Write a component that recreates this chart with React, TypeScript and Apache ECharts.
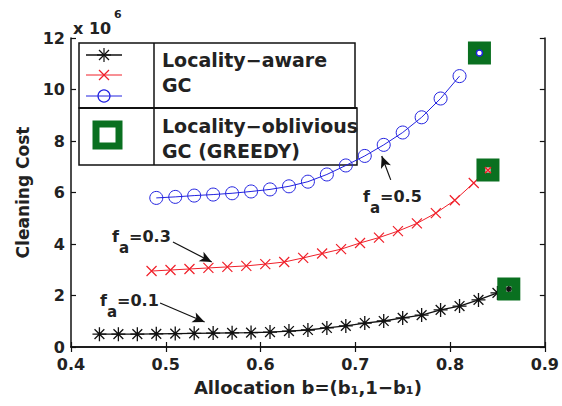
import React, { useEffect, useRef } from 'react';
import * as echarts from 'echarts';

// f_a = 0.1 (Locality-aware GC)
const xF01 = [0.43, 0.45, 0.47, 0.49, 0.51, 0.53, 0.55, 0.57, 0.59, 0.61, 0.63, 0.65, 0.67, 0.69, 0.71, 0.73, 0.75, 0.77, 0.79, 0.81, 0.83, 0.85];
const yF01 = [0.5, 0.5, 0.5, 0.51, 0.52, 0.53, 0.54, 0.55, 0.56, 0.58, 0.62, 0.66, 0.74, 0.82, 0.93, 1.01, 1.13, 1.24, 1.44, 1.59, 1.83, 2.1];
// f_a = 0.3
const xF03 = [0.485, 0.505, 0.525, 0.545, 0.565, 0.585, 0.605, 0.625, 0.645, 0.665, 0.685, 0.705, 0.725, 0.745, 0.765, 0.785, 0.805, 0.825];
const yF03 = [2.95, 2.99, 3.03, 3.07, 3.11, 3.15, 3.22, 3.3, 3.46, 3.63, 3.8, 4.04, 4.25, 4.5, 4.8, 5.2, 5.7, 6.37];
// f_a = 0.5
const xF05 = [0.49, 0.51, 0.53, 0.55, 0.57, 0.59, 0.61, 0.63, 0.65, 0.67, 0.69, 0.71, 0.73, 0.75, 0.77, 0.79, 0.81];
const yF05 = [5.79, 5.83, 5.88, 5.92, 5.97, 6.04, 6.12, 6.24, 6.42, 6.7, 7.05, 7.42, 7.85, 8.33, 8.92, 9.65, 10.52];
// Locality-oblivious GC (GREEDY), for f_a = 0.1, 0.3, 0.5
const greedyX = [0.862, 0.84, 0.831];
const greedyY = [2.25, 6.87, 11.42];

const seriesNames = ['f_a=0.1', 'f_a=0.3', 'f_a=0.5'];
const legendLabels = ['Locality\u2212aware', 'GC', 'Locality\u2212oblivious', 'GC (GREEDY)'];

const FONT = 'DejaVu Sans';
const TXT = '#222';
const BLACK = '#111';
const RED = '#f0202a';
const BLUE = '#2222e0';
const GREEN = '#0a7020';

const STAR = 'path://M5,0L5,10M0,5L10,5M1.5,1.5L8.5,8.5M8.5,1.5L1.5,8.5';
const CROSS = 'path://M0,0L10,10M10,0L0,10';

const zip = (xs: number[], ys: number[]) => xs.map((x, i) => [x, ys[i]]);

const arrow = (from: number[], to: number[]) => ({
  silent: true,
  symbol: ['none', 'arrow'],
  symbolSize: [8, 12],
  lineStyle: { color: BLACK, width: 1.2, type: 'solid' },
  itemStyle: { color: BLACK },
  label: { show: false },
  emphasis: { disabled: true },
  animation: false,
  data: [[{ coord: from }, { coord: to }]],
});

const annot = (x: number, y: number, val: string) => ({
  type: 'text',
  x,
  y,
  z: 50,
  style: {
    text: `{n|f}{s|a}{n|=${val}}`,
    fill: TXT,
    align: 'left',
    verticalAlign: 'top',
    rich: {
      n: { fontFamily: FONT, fontWeight: 'bold', fontSize: 16, fill: TXT, verticalAlign: 'top' },
      s: { fontFamily: FONT, fontWeight: 'bold', fontSize: 15, fill: TXT, verticalAlign: 'bottom', padding: [12, 0, 0, 0] },
    },
  },
});

const lineEl = (x1: number, y1: number, x2: number, y2: number, color: string, w = 1.2) => ({
  type: 'line',
  shape: { x1, y1, x2, y2 },
  style: { stroke: color, lineWidth: w },
});

export default function App() {
  const ref = useRef<HTMLDivElement>(null);
  useEffect(() => {
    const chart = echarts.init(ref.current!, null, { renderer: 'svg' });
    const axisLine = { show: true, lineStyle: { color: BLACK, width: 1.5 } };
    const axisTick = { show: true, inside: true, length: 5, lineStyle: { color: BLACK, width: 1.2 } };
    const labelStyle = { fontFamily: FONT, fontWeight: 'bold' as const, fontSize: 16, color: TXT };

    const lx = 104; // legend icon centre x
    const legendGraphic: any[] = [
      { type: 'rect', shape: { x: 79, y: 43, width: 276, height: 65 }, style: { fill: '#fff', stroke: BLACK, lineWidth: 1.5 } },
      { type: 'rect', shape: { x: 79, y: 108, width: 278, height: 57 }, style: { fill: '#fff', stroke: BLACK, lineWidth: 1.5 } },
      lineEl(79, 108, 357, 108, BLACK, 2.2),
      lineEl(154, 43, 154, 165, BLACK, 1.5),
      // black star row
      lineEl(86, 55, 122, 55, BLACK, 1.3),
      lineEl(lx, 48, lx, 62, BLACK), lineEl(lx - 7, 55, lx + 7, 55, BLACK),
      lineEl(lx - 5, 50, lx + 5, 60, BLACK), lineEl(lx + 5, 50, lx - 5, 60, BLACK),
      // red cross row
      lineEl(86, 75, 122, 75, RED, 1),
      lineEl(lx - 5, 70, lx + 5, 80, RED), lineEl(lx + 5, 70, lx - 5, 80, RED),
      // blue circle row
      lineEl(86, 96, 122, 96, BLUE, 1),
      { type: 'circle', shape: { cx: lx, cy: 96, r: 6 }, style: { fill: 'none', stroke: BLUE, lineWidth: 1.2 } },
      // green square
      { type: 'rect', shape: { x: 96, y: 124, width: 23, height: 22 }, style: { fill: '#fff', stroke: GREEN, lineWidth: 7 } },
      ...[60, 85, 126, 151].map((y, i) => ({
        type: 'text', x: 162, y,
        style: { text: legendLabels[i], fontFamily: FONT, fontWeight: 'bold', fontSize: 19, fill: TXT, align: 'left', verticalAlign: 'middle' },
      })),
    ];

    const option: any = {
      animation: false,
      backgroundColor: '#fff',
      grid: { left: 71, top: 38, width: 476, height: 309, containLabel: false },
      xAxis: [
        {
          type: 'value', min: 0.4, max: 0.9, interval: 0.1, position: 'bottom',
          axisLine, axisTick, splitLine: { show: false },
          axisLabel: { ...labelStyle, margin: 9, formatter: (v: number) => v.toFixed(1) },
          name: 'Allocation b=(b\u2081,1\u2212b\u2081)', nameLocation: 'middle', nameGap: 31,
          nameTextStyle: { fontFamily: FONT, fontWeight: 'bold', fontSize: 18, color: TXT },
        },
        {
          type: 'value', min: 0.4, max: 0.9, interval: 0.1, position: 'top',
          axisLine, axisTick, splitLine: { show: false }, axisLabel: { show: false },
        },
      ],
      yAxis: [
        {
          type: 'value', min: 0, max: 12, interval: 2, position: 'left',
          axisLine, axisTick, splitLine: { show: false },
          axisLabel: { ...labelStyle, margin: 6 },
          name: 'Cleaning Cost', nameLocation: 'middle', nameGap: 34,
          nameTextStyle: { fontFamily: FONT, fontWeight: 'bold', fontSize: 17, color: TXT },
        },
        {
          type: 'value', min: 0, max: 12, interval: 2, position: 'right',
          axisLine, axisTick, splitLine: { show: false }, axisLabel: { show: false },
        },
      ],
      series: [
        {
          name: seriesNames[0], type: 'line', data: zip(xF01, yF01), z: 3,
          symbol: STAR, symbolSize: 14, showAllSymbol: true,
          lineStyle: { color: BLACK, width: 1.3 },
          itemStyle: { color: 'none', borderColor: BLACK, borderWidth: 1.3 },
          markLine: arrow([0.494, 1.71], [0.541, 0.97]),
        },
        {
          name: seriesNames[1], type: 'line', data: zip(xF03, yF03), z: 3,
          symbol: CROSS, symbolSize: 10, showAllSymbol: true,
          lineStyle: { color: RED, width: 1 },
          itemStyle: { color: 'none', borderColor: RED, borderWidth: 1.2 },
          markLine: arrow([0.5076, 4.08], [0.5485, 3.3]),
        },
        {
          name: seriesNames[2], type: 'line', data: zip(xF05, yF05), z: 3,
          symbol: 'circle', symbolSize: 13, showAllSymbol: true,
          lineStyle: { color: BLUE, width: 1 },
          itemStyle: { color: 'none', borderColor: BLUE, borderWidth: 1 },
          markLine: arrow([0.7374, 6.49], [0.7279, 7.42]),
        },
        {
          name: 'GREEDY', type: 'scatter', data: zip(greedyX, greedyY), z: 4,
          symbol: 'rect', symbolSize: 14,
          itemStyle: { color: '#fff', borderColor: GREEN, borderWidth: 9, opacity: 1 },
        },
        {
          name: 'GREEDY inner', type: 'scatter', z: 5,
          data: greedyX.map((x, i) => ({
            value: [x, greedyY[i]],
            symbol: [STAR, CROSS, 'circle'][i],
            symbolSize: 6,
            itemStyle: { color: 'none', borderColor: [BLACK, RED, BLUE][i], borderWidth: 1.5, opacity: 1 },
          })),
        },
      ],
      graphic: [
        { type: 'group', z: 100, children: legendGraphic },
        annot(363, 188, '0.5'),
        annot(112, 228, '0.3'),
        annot(100, 292, '0.1'),
        { type: 'text', x: 73, y: 20, z: 50, style: { text: 'x 10', fontFamily: FONT, fontWeight: 'bold', fontSize: 16, fill: TXT, align: 'left', verticalAlign: 'top' } },
        { type: 'text', x: 114, y: 9, z: 50, style: { text: '6', fontFamily: FONT, fontWeight: 'bold', fontSize: 11, fill: TXT, align: 'left', verticalAlign: 'top' } },
      ],
    };
    chart.setOption(option);
    return () => chart.dispose();
  }, []);
  return <div ref={ref} style={{ position: 'fixed', left: 0, top: 0, width: 562, height: 406, background: '#fff' }} />;
}
